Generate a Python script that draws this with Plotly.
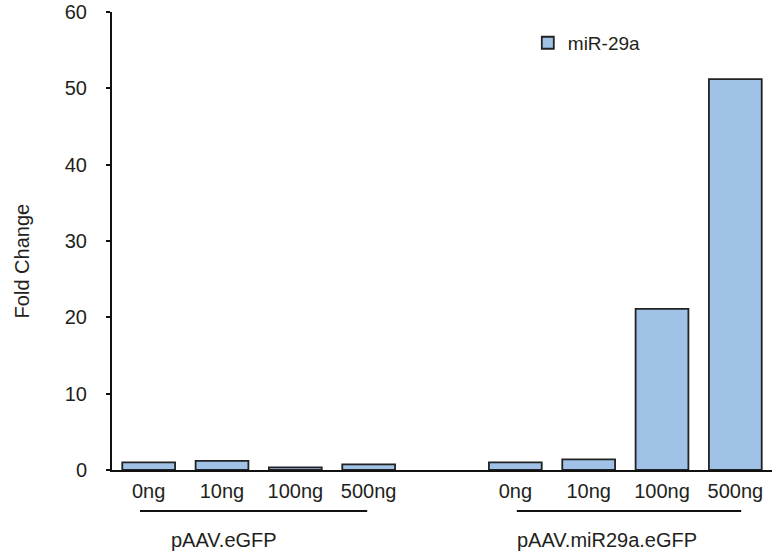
import plotly.graph_objects as go

dose_labels = ["0ng", "10ng", "100ng", "500ng"]
groups = ["pAAV.eGFP", "pAAV.miR29a.eGFP"]
egfp_values = [1.0, 1.2, 0.35, 0.75]
mir29a_values = [1.0, 1.4, 21.1, 51.2]
series_name = "miR-29a"
y_ticks = [0, 10, 20, 30, 40, 50, 60]

# positions: group 1 at 0..3, empty slot at 4, group 2 at 5..8
x_pos = list(range(4)) + [5 + i for i in range(4)]
y_vals = egfp_values + mir29a_values
tick_text = dose_labels + dose_labels

FONT = "Liberation Sans, Arial, Helvetica, sans-serif"
FS = 20

fig = go.Figure()
fig.add_trace(go.Bar(
    x=x_pos, y=y_vals, name=series_name,
    marker=dict(color="#9fc2e6", line=dict(color="#222222", width=1.8)),
    width=0.72, showlegend=True,
))

fig.update_layout(
    width=772, height=552,
    margin=dict(l=112, r=0, t=12, b=82),
    paper_bgcolor="white", plot_bgcolor="white",
    font=dict(family=FONT, size=FS, color="#231f20"),
    showlegend=True,
    legend=dict(x=0.63, y=0.974, xanchor="left", yanchor="top",
                bgcolor="rgba(0,0,0,0)", font=dict(size=19),
                itemwidth=30),
    xaxis=dict(range=[-0.5, 8.5], tickvals=x_pos, ticktext=tick_text,
               showline=True, linecolor="#111111", linewidth=2,
               ticks="", showgrid=False, zeroline=False,
               tickfont=dict(size=FS), ticklabelstandoff=2),
    yaxis=dict(range=[0, 60], tickvals=y_ticks,
               showline=True, linecolor="#111111", linewidth=2,
               ticks="outside", ticklen=4, tickwidth=2, tickcolor="#111111",
               showgrid=False, zeroline=False,
               tickfont=dict(size=FS), ticklabelstandoff=15),
)

# group underlines and labels
group_spans = [(-0.118, 2.98), (5.02, 8.08)]
group_label_x = [1.03, 6.25]
for (x0, x1), lx, name in zip(group_spans, group_label_x, groups):
    fig.add_shape(type="line", xref="x", yref="paper", x0=x0, x1=x1,
                  y0=-0.0895, y1=-0.0895, line=dict(color="#111111", width=2))
    fig.add_annotation(text=name, xref="x", yref="paper", x=lx,
                       y=-0.153, showarrow=False, yanchor="middle",
                       font=dict(size=FS))

fig.add_annotation(text="Fold Change", xref="paper", yref="paper",
                   x=-0.136, y=0.456, textangle=-90, showarrow=False,
                   xanchor="center", yanchor="middle", font=dict(size=FS))

fig.write_html("out.html", config={"displayModeBar": False},
               post_script="document.body.style.margin='0';document.body.style.overflow='hidden';")
